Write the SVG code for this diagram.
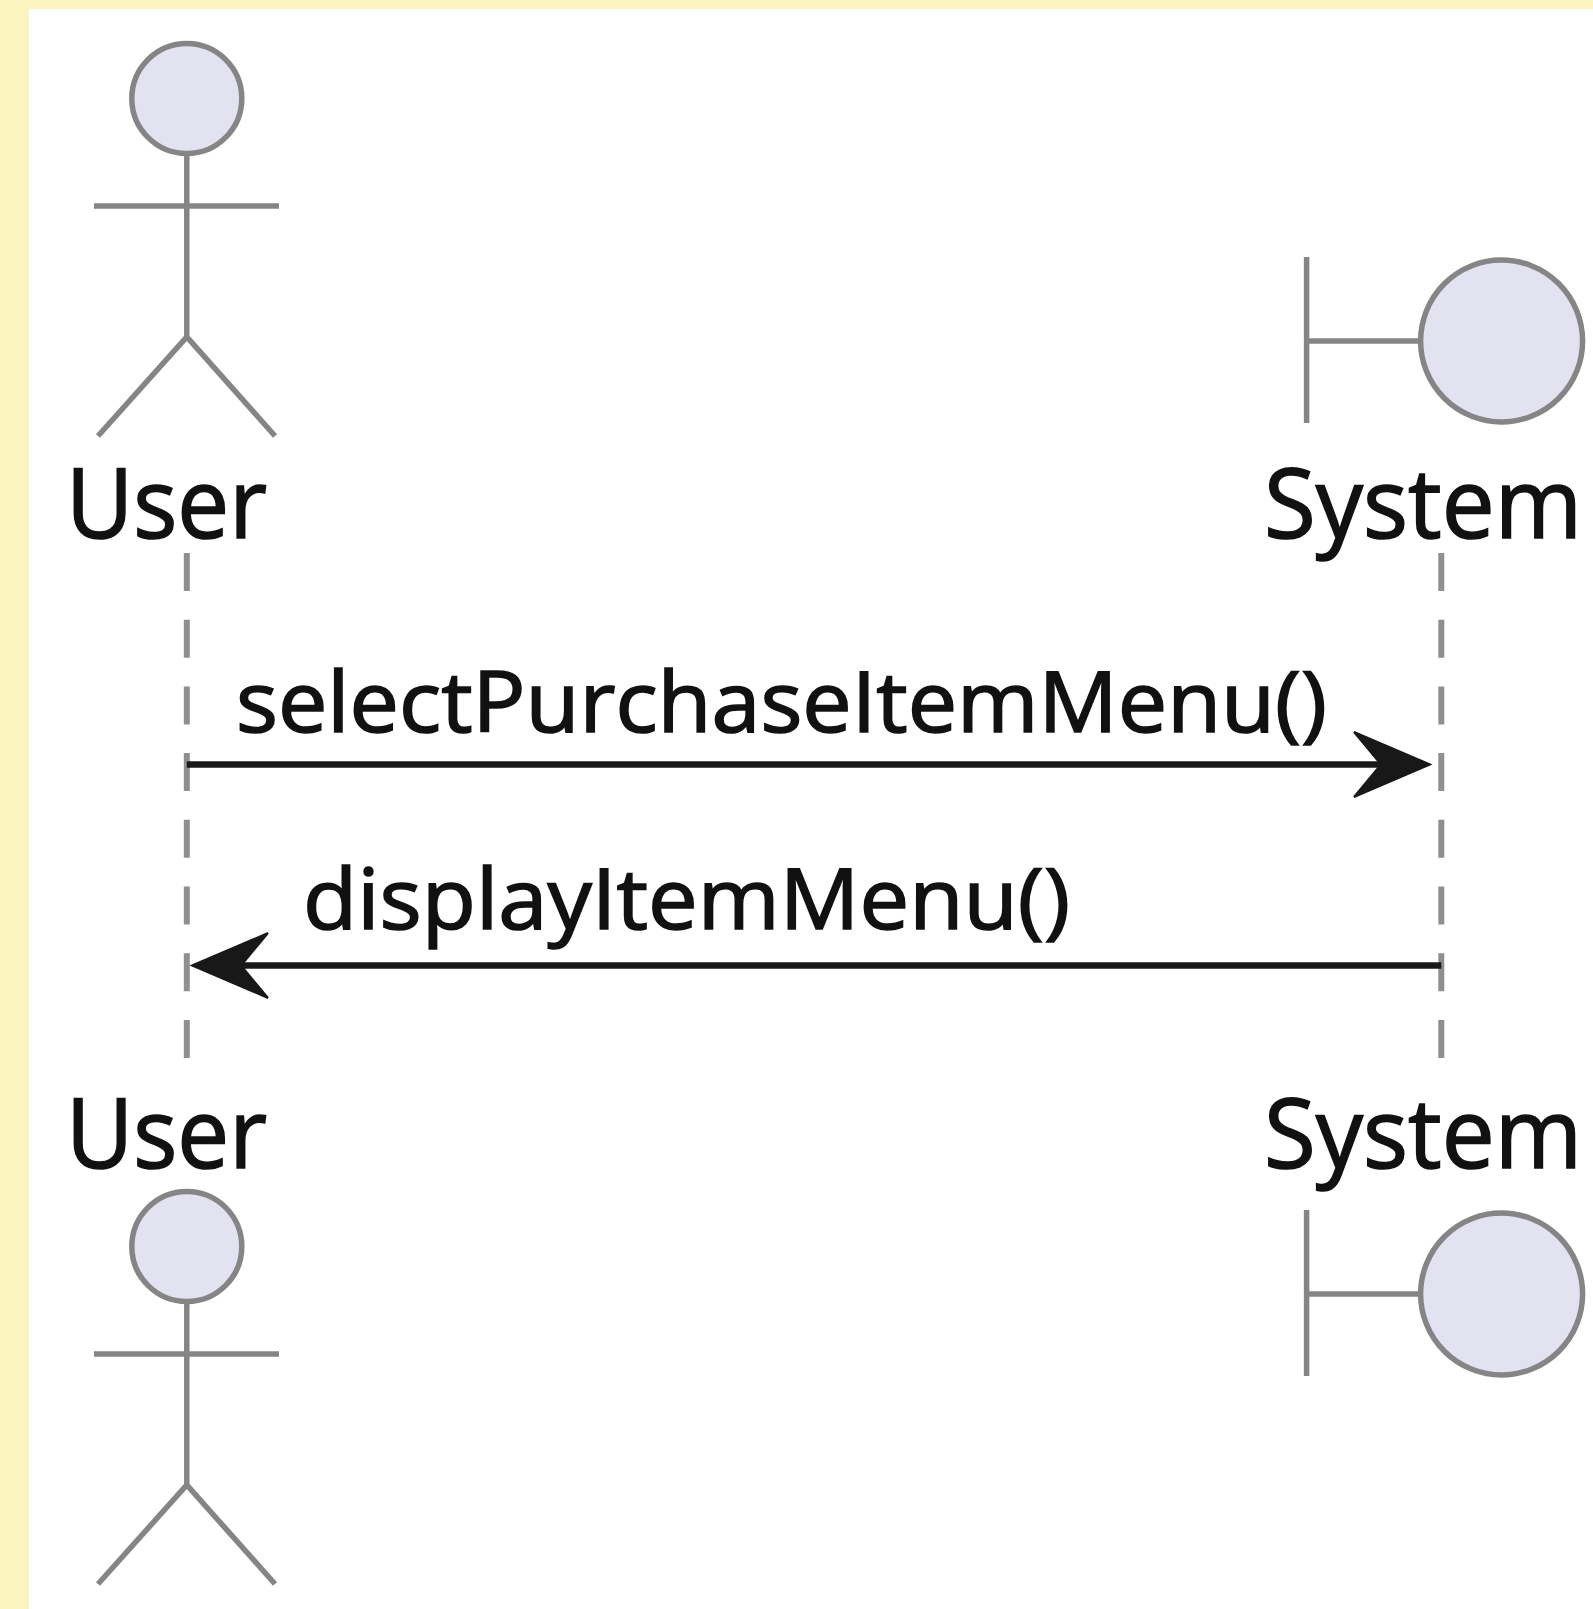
<svg xmlns="http://www.w3.org/2000/svg" width="1593" height="1609" viewBox="0 0 1593 1609">
<style>
.bg{fill:#FCF4C0}
.sym{fill:#E2E2F0;stroke:#858585;stroke-width:5.5}
.ln{fill:none;stroke:#858585;stroke-width:5.5}
.life{fill:none;stroke:#8f8f8f;stroke-width:6;stroke-dasharray:38 28.7}
.msg{fill:none;stroke:#181818;stroke-width:6.5}
.head{fill:#181818;stroke:#181818;stroke-width:2;stroke-linejoin:miter}
text{font-family:"Open Sans","DejaVu Sans",sans-serif;fill:#111;stroke:#111;stroke-width:1.6}
.name{font-size:97px}
.lbl{font-size:84px}
</style>
<defs>
<g id="actor"><circle class="sym" cx="186.8" cy="98.5" r="55"/><path class="ln" d="M186.8 153.500V337M94 206H279M98 436L186.800 337L275 436"/></g>
<g id="boundary"><path class="ln" d="M1306.600 257V423M1306.600 341H1420"/><circle class="sym" cx="1501.600" cy="341" r="81"/></g>
</defs>
<rect width="1593" height="1609" fill="#fff"/>
<path class="bg" d="M0 0H1593V9H29V1609H0Z"/>
<g id="connectors">
<path class="life" d="M186.800 553V1062"/>
<path class="life" d="M1441.300 553V1062"/>
<g id="msg1"><path class="msg" d="M186.800 764.500H1395"/><path class="head" d="M1430 764.500L1354 732L1381 764.500L1354 797Z"/></g>
<g id="msg2"><path class="msg" d="M1441.300 965.500H230"/><path class="head" d="M192 965.500L268 933L241 965.500L268 998Z"/></g>
</g>
<g id="label1"><text class="lbl" x="236" y="732" textLength="1091" lengthAdjust="spacingAndGlyphs">selectPurchaseItemMenu()</text></g>
<g id="label2"><text class="lbl" x="303" y="929" textLength="767" lengthAdjust="spacingAndGlyphs">displayItemMenu()</text></g>
<g id="user-top"><use href="#actor"/><text class="name" x="66" y="538" textLength="201" lengthAdjust="spacingAndGlyphs">User</text></g>
<g id="system-top"><use href="#boundary"/><text class="name" x="1264" y="538" textLength="318" lengthAdjust="spacingAndGlyphs">System</text></g>
<g id="user-bottom"><use href="#actor" y="1148"/><text class="name" x="66" y="1168" textLength="201" lengthAdjust="spacingAndGlyphs">User</text></g>
<g id="system-bottom"><use href="#boundary" y="953"/><text class="name" x="1264" y="1168" textLength="318" lengthAdjust="spacingAndGlyphs">System</text></g>
</svg>
